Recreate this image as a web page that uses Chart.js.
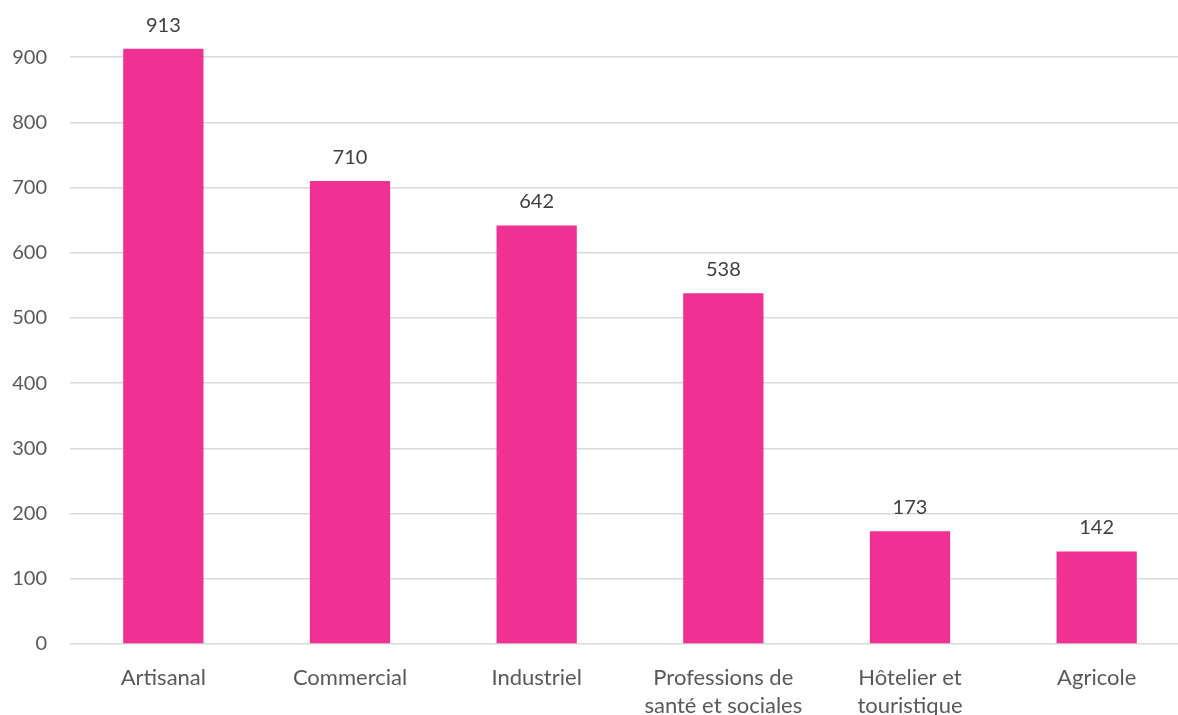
<!DOCTYPE html>
<html>
<head>
<meta charset="utf-8">
<script src="https://cdn.jsdelivr.net/npm/chart.js@4/dist/chart.umd.min.js"></script>
<style>
    html, body { margin: 0; padding: 0; background: #fff; overflow: hidden; }
    #wrap { width: 1200px; height: 730px; }
</style>
</head>
<body>
<div id="wrap"><canvas id="barChart" width="1200" height="730"></canvas></div>
<script>
const categories = [
    "Artisanal",
    "Commercial",
    "Industriel",
    ["Professions de", "santé et sociales"],
    ["Hôtelier et", "touristique"],
    "Agricole",
];
const counts = [913, 710, 642, 538, 173, 142];
const yTicks = [0, 100, 200, 300, 400, 500, 600, 700, 800, 900];

const FONT = "Lato, 'Open Sans', sans-serif";

// value labels over each bar
const barLabels = {
    id: "barLabels",
    afterDatasetsDraw(chart) {
        const ctx = chart.ctx;
        const meta = chart.getDatasetMeta(0);
        ctx.save();
        ctx.font = "20px " + FONT;
        ctx.fillStyle = "#404040";
        ctx.textAlign = "center";
        ctx.textBaseline = "alphabetic";
        meta.data.forEach((bar, i) => {
            ctx.fillText(String(counts[i]), bar.x, bar.y - 17);
        });
        ctx.restore();
    }
};

new Chart(document.getElementById("barChart"), {
    type: "bar",
    data: {
        labels: categories,
        datasets: [{
            data: counts,
            backgroundColor: "#ee3192",
            borderWidth: 0,
            barPercentage: 0.43,
            categoryPercentage: 1,
        }]
    },
    options: {
        responsive: false,
        animation: false,
        layout: { padding: { top: 0, right: 10, bottom: 0, left: 0 } },
        plugins: {
            legend: { display: false },
            tooltip: { enabled: false },
        },
        scales: {
            x: {
                grid: { display: false },
                border: { display: false },
                ticks: {
                    color: "#595959",
                    font: { family: FONT, size: 22, lineHeight: 1.27 },
                    padding: 12,
                    maxRotation: 0,
                    autoSkip: false,
                },
                afterFit: scale => { scale.height = 86; },
            },
            y: {
                min: 0,
                max: 934,
                grid: { color: "#d9d9d9", lineWidth: 1.5, drawTicks: false },
                border: { display: false },
                ticks: {
                    color: "#595959",
                    font: { family: FONT, size: 20 },
                    padding: 23,
                },
                afterBuildTicks: scale => {
                    scale.ticks = yTicks.map(v => ({ value: v }));
                },
                afterFit: scale => { scale.width = 70; },
            }
        }
    },
    plugins: [barLabels],
});
</script>
</body>
</html>
